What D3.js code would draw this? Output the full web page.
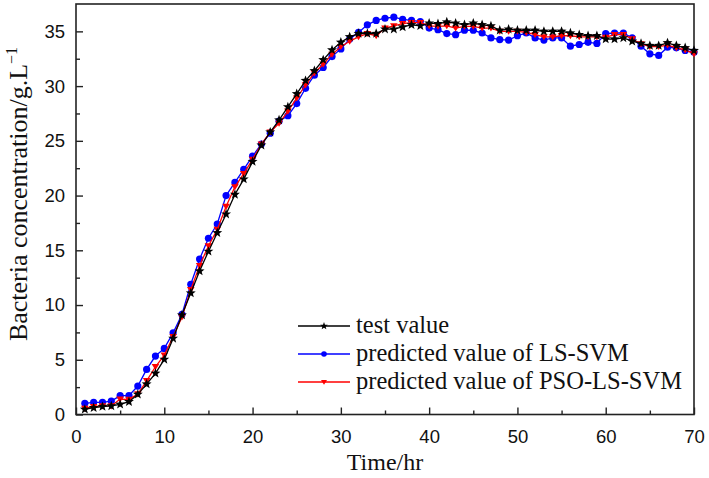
<!DOCTYPE html>
<html><head><meta charset="utf-8">
<script src="https://cdn.jsdelivr.net/npm/d3@7/dist/d3.min.js"></script>
<style>body{margin:0;background:#fff}svg{display:block}</style>
</head><body>
<script>
const times = d3.range(1, 71);
const testValue = [0.47,0.62,0.72,0.78,0.93,1.17,1.84,2.78,3.76,5.03,6.95,9.08,11.1,13.1,14.9,16.6,18.3,20.1,21.5,23.1,24.6,25.8,26.9,28.1,29.3,30.5,31.4,32.4,33.3,34.0,34.5,34.8,34.8,34.8,35.2,35.2,35.4,35.6,35.5,35.75,35.7,35.85,35.75,35.6,35.75,35.6,35.5,35.1,35.2,35.1,35.1,35.1,35.0,35.0,35.0,34.85,34.7,34.6,34.6,34.3,34.3,34.4,34.1,33.9,33.7,33.7,33.95,33.7,33.5,33.25];
const lssvm = [1.02,1.11,1.11,1.23,1.72,1.72,2.6,4.12,5.34,6.04,7.46,9.14,11.9,14.2,16.1,17.4,20.0,21.2,22.4,23.6,24.7,25.7,26.8,27.3,28.4,29.8,31.0,31.7,32.7,33.4,34.3,34.9,35.6,36.0,36.2,36.3,36.1,36.0,35.9,35.3,35.15,34.8,34.7,35.1,35.1,34.85,34.4,34.25,34.2,34.6,34.85,34.4,34.2,34.4,34.4,33.65,33.8,34.0,33.9,34.8,34.85,34.85,34.4,33.65,32.95,32.8,33.55,33.5,33.25,33.1];
const psoLssvm = [0.55,0.71,0.78,0.78,1.41,1.38,1.87,3.08,4.36,5.43,7.1,8.9,11.4,13.6,15.4,16.9,19.0,20.8,22.0,23.3,24.7,25.8,26.6,27.7,28.9,30.1,31.2,32.0,32.9,33.6,34.1,34.5,34.8,34.6,35.3,35.5,35.7,35.8,35.8,35.5,35.45,35.5,35.3,35.45,35.45,35.3,35.3,35.0,35.0,35.0,34.9,34.7,34.5,34.5,34.6,34.6,34.5,34.5,34.5,34.45,34.7,34.7,34.3,33.85,33.6,33.6,33.75,33.5,33.3,32.95];
const xTicks = [0,10,20,30,40,50,60,70];
const yTicks = [0,5,10,15,20,25,30,35];
const seriesNames = ["test value","predicted value of LS-SVM","predicted value of PSO-LS-SVM"];

const W = 709, H = 478;
const m = {left:76, right:15, top:4, bottom:63.5};
const svg = d3.select("body").append("svg").attr("width", W).attr("height", H);
const x = d3.scaleLinear().domain([0,70]).range([m.left, W - m.right]);
const y = d3.scaleLinear().domain([0,37.5]).range([H - m.bottom, m.top]);
const axisColor = "#222";

svg.append("rect").attr("x", x(0)).attr("y", y(37.5))
  .attr("width", x(70)-x(0)).attr("height", y(0)-y(37.5))
  .attr("fill","none").attr("stroke",axisColor).attr("stroke-width",1.6);

const xAx = svg.append("g").attr("transform",`translate(0,${y(0)})`)
  .call(d3.axisBottom(x).tickValues(xTicks).tickSize(-7).tickPadding(15).tickFormat(d3.format("d")));
const xMinor = svg.append("g").attr("transform",`translate(0,${y(0)})`)
  .call(d3.axisBottom(x).tickValues(d3.range(5,70,10)).tickSize(-4).tickFormat(""));
const yAx = svg.append("g").attr("transform",`translate(${x(0)},0)`)
  .call(d3.axisLeft(y).tickValues(yTicks).tickSize(-7).tickPadding(11).tickFormat(d3.format("d")));
const yMinor = svg.append("g").attr("transform",`translate(${x(0)},0)`)
  .call(d3.axisLeft(y).tickValues(d3.range(2.5,37.5,5)).tickSize(-4).tickFormat(""));
[xAx,xMinor,yAx,yMinor].forEach(g=>{
  g.select(".domain").remove();
  g.selectAll(".tick line").attr("stroke",axisColor).attr("stroke-width",1.4);
  g.selectAll("text").attr("font-family","'Liberation Sans', Arial, sans-serif").attr("font-size",18.5).attr("fill","#111");
});

const plot = svg.append("g");
const line = d3.line().x((d,i)=>x(times[i])).y(d=>y(d));

function star(cx, cy, r){
  const pts=[];
  for(let k=0;k<10;k++){
    const a = -Math.PI/2 + k*Math.PI/5;
    const rr = k%2===0 ? r : r*0.42;
    pts.push([cx+rr*Math.cos(a), cy+rr*Math.sin(a)]);
  }
  return "M"+pts.map(p=>p.join(",")).join("L")+"Z";
}
function tri(cx, cy, r){
  return `M${cx-r},${cy-r*0.7}L${cx+r},${cy-r*0.7}L${cx},${cy+r*0.9}Z`;
}

const series = [
  {name:seriesNames[1], data:lssvm, color:"#0000ff", marker:"circle"},
  {name:seriesNames[2], data:psoLssvm, color:"#ff0000", marker:"tri"},
  {name:seriesNames[0], data:testValue, color:"#000000", marker:"star"}
];
series.forEach(s=>{
  plot.append("path").datum(s.data).attr("d",line).attr("fill","none")
    .attr("stroke",s.color).attr("stroke-width",1.3);
  const g = plot.append("g");
  s.data.forEach((v,i)=>{
    const cx = x(times[i]), cy = y(v);
    if(s.marker==="circle") g.append("circle").attr("cx",cx).attr("cy",cy).attr("r",3.6).attr("fill",s.color);
    else if(s.marker==="tri") g.append("path").attr("d",tri(cx,cy,3.8)).attr("fill",s.color);
    else g.append("path").attr("d",star(cx,cy,5.2)).attr("fill",s.color);
  });
});

const legend = svg.append("g");
const legItems = [
  {name:seriesNames[0], color:"#000", marker:"star"},
  {name:seriesNames[1], color:"#0000ff", marker:"circle"},
  {name:seriesNames[2], color:"#ff0000", marker:"tri"}
];
legItems.forEach((it,i)=>{
  const ly = 326 + i*28;
  legend.append("line").attr("x1",298).attr("x2",350).attr("y1",ly).attr("y2",ly)
    .attr("stroke",it.color).attr("stroke-width",1.3);
  if(it.marker==="circle") legend.append("circle").attr("cx",324).attr("cy",ly).attr("r",2.8).attr("fill",it.color);
  else if(it.marker==="tri") legend.append("path").attr("d",tri(324,ly,3)).attr("fill",it.color);
  else legend.append("path").attr("d",star(324,ly,4)).attr("fill",it.color);
  legend.append("text").attr("x",356).attr("y",ly+7).text(it.name)
    .attr("font-family","'Liberation Serif','Times New Roman',serif").attr("font-size",24.5).attr("fill","#111");
});

svg.append("text").attr("x",(x(0)+x(70))/2).attr("y",470).attr("text-anchor","middle")
  .attr("font-family","'Liberation Serif','Times New Roman',serif").attr("font-size",24).attr("fill","#111")
  .text("Time/hr");
const yt = svg.append("text").attr("transform",`translate(27,194) rotate(-90)`)
  .attr("text-anchor","middle")
  .attr("font-family","'Liberation Serif','Times New Roman',serif").attr("font-size",26).attr("fill","#111");
yt.append("tspan").text("Bacteria concentration/g.L");
yt.append("tspan").attr("dy",-10).attr("font-size",16).text("\u22121");
</script>
</body></html>
